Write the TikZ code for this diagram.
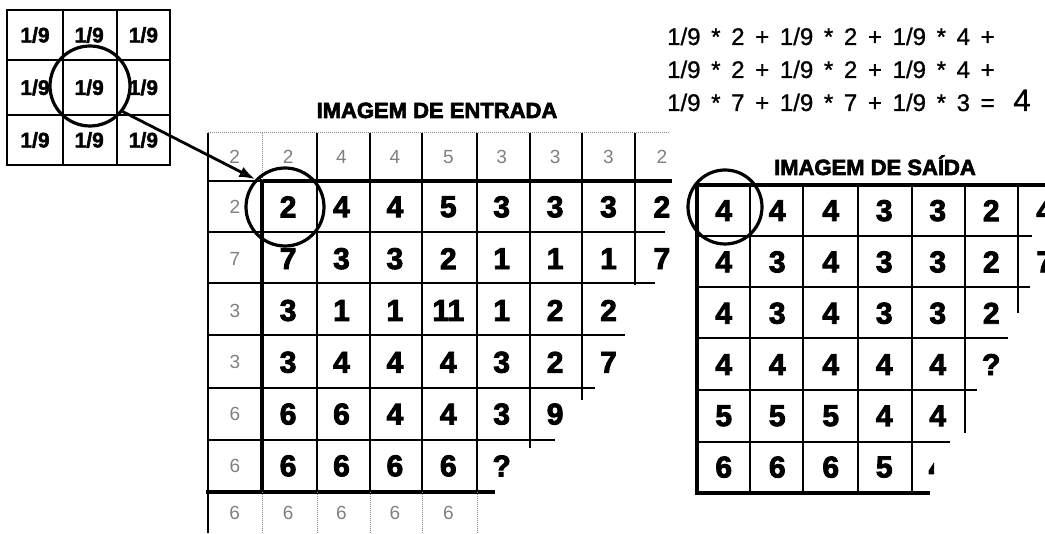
\documentclass[tikz,border=0pt]{standalone}
\usepackage{fontspec}
\setmainfont{Liberation Sans}
\newfontfamily\cellfont{Liberation Sans Bold}[FakeBold=3]
\newfontfamily\padfont{Liberation Sans}
\newfontfamily\kernfont{Liberation Sans Bold}[FakeBold=2]
\newfontfamily\titlefont{Liberation Sans Bold}[FakeBold=3]
\newfontfamily\eqfont{Liberation Sans}[FakeBold=1,WordSpace=1.6]
\usetikzlibrary{
    arrows.meta,
    positioning
}

\begin{document}
\begin{tikzpicture}[
        x=1pt, y=-1pt,
        grid/.style={line width=2pt},
        heavy/.style={line width=3.8pt, line cap=rect},
        faint/.style={line width=1pt, black!45, densely dotted},
        val/.style={font=\cellfont\fontsize{30}{30}\selectfont, inner sep=0pt},
        pad/.style={font=\padfont\fontsize{19}{19}\selectfont, text=black!50, inner sep=0pt},
        kern/.style={font=\kernfont\fontsize{21}{21}\selectfont, inner sep=0pt},
        title/.style={font=\titlefont\fontsize{22}{22}\selectfont, inner sep=0pt, anchor=base},
        eqline/.style={font=\eqfont\fontsize{24}{24}\selectfont, inner sep=0pt, anchor=base west},
        ring/.style={circle, draw, line width=3.2pt, inner sep=0pt},
        line/.style={
            -{Latex[length=16pt,width=11pt]},
            line width=2.8pt
        }
    ]

    \useasboundingbox (0,0) rectangle (1045,534);

    % filter 3x3
    \draw[grid] (7,10) rectangle (170,165);
    \foreach \x in {63,117} \draw[grid] (\x,10) -- (\x,165);
    \foreach \y in {60,115} \draw[grid] (7,\y) -- (170,\y);
    \foreach \r in {0,1,2}
        \foreach \c in {0,1,2}
            \node[kern] (k-\r-\c) at ({35+54.2*\c},{35+52.5*\r}) {1/9};

    % input image
    \draw[faint] (208,133) -- (670,133);
    \draw[grid] (208,133) -- (208,533);
    \draw[grid] (208,181) -- (262,181);
    \draw[heavy] (262,181) -- (670,181);
    \foreach \y/\e in {232/665, 283/655, 335/625, 388/595, 440/555}
        \draw[grid] (208,\y) -- (\e,\y);
    \draw[heavy] (208,492) -- (493,492);
    \draw[heavy] (262,181) -- (262,492);
    \draw[faint] (262,133) -- (262,181);
    \foreach \x/\e in {317/492, 370/492, 422/492, 477/492, 530/448, 582/400, 635/285}
        \draw[grid] (\x,133) -- (\x,\e);
    \foreach \x in {262,317,370,422,477}
        \draw[faint] (\x,492) -- (\x,533);

    \foreach \v [count=\c from 0] in {2,2,4,4,5,3,3,3,2}
        \node[pad] (pad-0-\c) at ({208+53.4*(\c+0.5)},157) {\v};
    \foreach \v [count=\r] in {2,7,3,3,6,6}
        \node[pad] (pad-\r-0) at (235,{181+51.8*(\r-0.5)}) {\v};
    \foreach \c in {0,...,4}
        \node[pad] (pad-7-\c) at ({208+53.4*(\c+0.5)},513) {6};

    \foreach \vals [count=\r] in {{2,4,4,5,3,3,3,2},{7,3,3,2,1,1,1,7},{3,1,1,11,1,2,2},
            {3,4,4,4,3,2,7},{6,6,4,4,3,9},{6,6,6,6,?}}
        \foreach \v [count=\c] in \vals
            \node[val] (in-\r-\c) at ({208+53.4*(\c+0.5)},{181+51.8*(\r-0.5)}) {\v};

    \node[title] (tin) at (437,118) {IMAGEM DE ENTRADA};

    % output image
    \draw[heavy] (697,185) -- (1045,185);
    \foreach \y/\e in {236/1032, 287/1030, 338/1008, 390/977, 442/950}
        \draw[grid] (697,\y) -- (\e,\y);
    \draw[heavy] (697,493) -- (928,493);
    \draw[heavy] (697,185) -- (697,493);
    \foreach \x/\e in {750/493, 803/493, 858/493, 912/493, 965/433, 1018/313}
        \draw[grid] (\x,185) -- (\x,\e);

    \foreach \vals [count=\r from 0] in {{4,4,4,3,3,2,4},{4,3,4,3,3,2,7},{4,3,4,3,3,2},
            {4,4,4,4,4,?},{5,5,5,4,4},{6,6,6,5}}
        \foreach \v [count=\c from 0] in \vals
            \node[val] (out-\r-\c) at ({697+53.5*(\c+0.5)},{185+51.3*(\r+0.5)}) {\v};
    \begin{scope}
        \clip (912,442) rectangle (934,493);
        \node[val] (out-5-4) at (937,467.7) {4};
    \end{scope}

    \node[title] (tout) at (875,175) {IMAGEM DE SAÍDA};

    % sum
    \node[eqline] (eq1) at (667,45) {1/9 * 2 + 1/9 * 2 + 1/9 * 4 +};
    \node[eqline] (eq2) at (667,78) {1/9 * 2 + 1/9 * 2 + 1/9 * 4 +};
    \node[eqline] (eq3) at (667,111)
        {1/9 * 7 + 1/9 * 7 + 1/9 * 3 =\hspace{8pt} {\fontsize{31}{31}\selectfont 4}};

    \node[ring, minimum size=80pt] (kring) at (90,86) {};
    \node[ring, minimum size=78pt] (iring) at (285,207) {};
    \node[ring, minimum size=74pt] (oring) at (725,207) {};

    \draw[line] (kring.-38) -- (iring.137);

\end{tikzpicture}
\end{document}
